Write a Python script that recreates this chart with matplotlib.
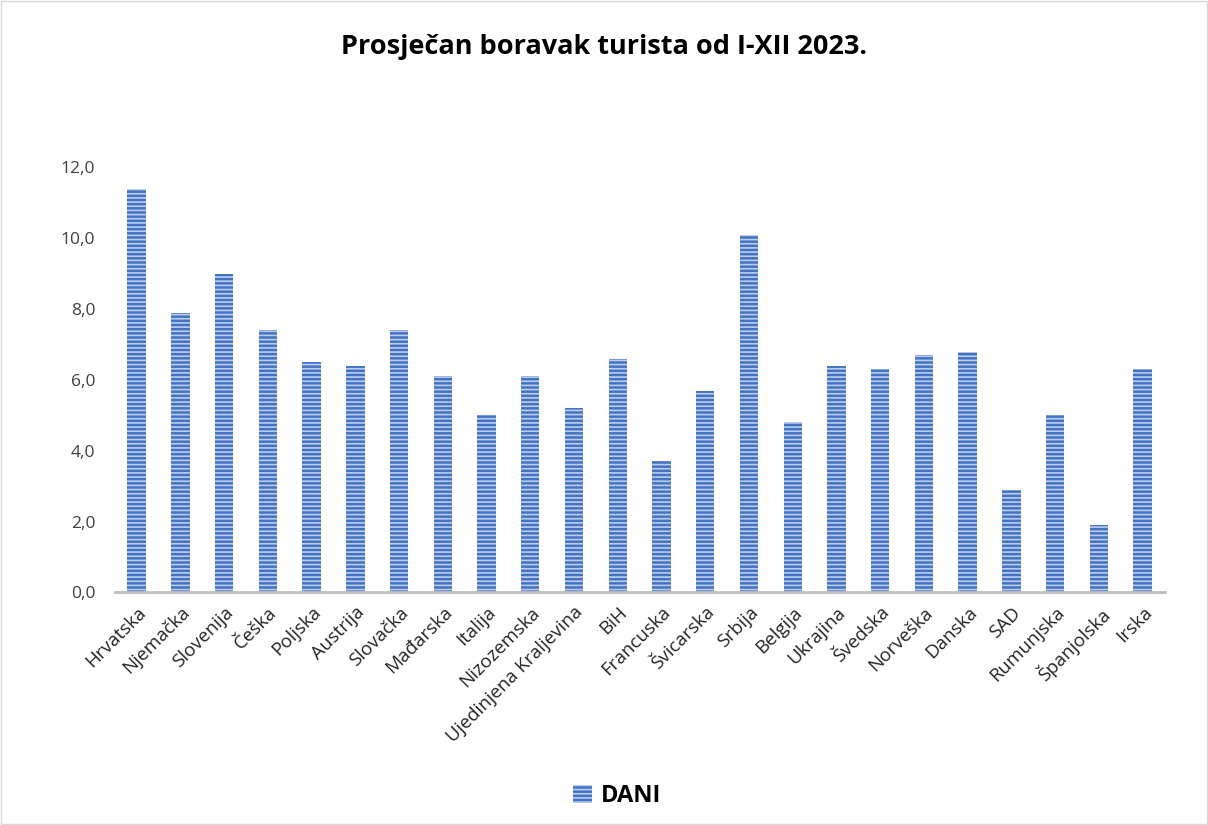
import matplotlib.pyplot as plt
import numpy as np
from matplotlib.patches import Patch

# podaci
zemlje = ['Hrvatska', 'Njemačka', 'Slovenija', 'Češka', 'Poljska', 'Austrija',
          'Slovačka', 'Mađarska', 'Italija', 'Nizozemska', 'Ujedinjena Kraljevina',
          'BiH', 'Francuska', 'Švicarska', 'Srbija', 'Belgija', 'Ukrajina',
          'Švedska', 'Norveška', 'Danska', 'SAD', 'Rumunjska', 'Španjolska', 'Irska']
dani = [11.4, 7.9, 9.0, 7.4, 6.5, 6.4, 7.4, 6.1, 5.0, 6.1, 5.2, 6.6, 3.7, 5.7,
        10.1, 4.8, 6.4, 6.3, 6.7, 6.8, 2.9, 5.0, 1.9, 6.3]
y_ticks = [0, 2, 4, 6, 8, 10, 12]

plt.rcParams['font.family'] = ['Open Sans', 'DejaVu Sans']
plt.rcParams['hatch.linewidth'] = 1.2

fig = plt.figure(figsize=(12.08, 8.25), dpi=100)
ax = fig.add_axes([0.095, 0.282, 0.869, 0.515])

x = np.arange(len(zemlje))
ax.bar(x, dani, width=0.42, color='#4472C4', linewidth=0)
ax.bar(x, dani, width=0.42, facecolor='none', edgecolor='#BCCDEB', hatch='----', linewidth=0)

ax.set_xlim(-0.5, len(zemlje) - 0.5)
ax.set_ylim(0, 12)
ax.set_yticks(y_ticks)
ax.set_yticklabels([f'{v:.1f}'.replace('.', ',') for v in y_ticks], fontsize=12.5, color='#404040')
ax.set_xticks(x)
ax.set_xticklabels(zemlje, rotation=45, ha='right', rotation_mode='anchor', fontsize=13.5, color='#262626')
ax.tick_params(axis='y', length=0, pad=14)
ax.tick_params(axis='x', length=0, pad=8)
for s in ['top', 'right', 'left']:
    ax.spines[s].set_visible(False)
ax.spines['bottom'].set_color('#BFBFBF')
ax.spines['bottom'].set_linewidth(2)

fig.text(0.5, 0.943, 'Prosječan boravak turista od I-XII 2023.', ha='center', va='center',
         fontsize=19.5, fontweight='bold', color='black')

# legenda
h = Patch(facecolor='#4472C4', edgecolor='#BCCDEB', hatch='----', linewidth=0)
fig.legend(handles=[h], labels=['DANI'], loc='center', bbox_to_anchor=(0.511, 0.035),
           frameon=False, prop={'size': 17, 'weight': 'bold'}, handlelength=0.8, handleheight=0.8,
           handletextpad=0.4)

# okvir
fig.patches.append(plt.Rectangle((0.001, 0.001), 0.998, 0.998, transform=fig.transFigure,
                                 fill=False, edgecolor='#D9D9D9', linewidth=1))

fig.savefig('out.png', dpi=100)
